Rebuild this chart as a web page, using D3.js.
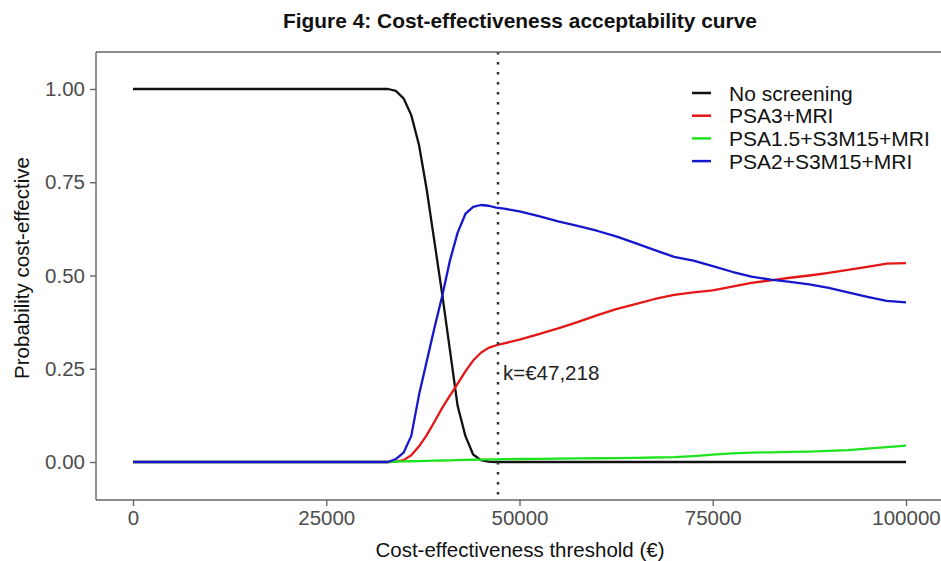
<!DOCTYPE html>
<html>
<head>
<meta charset="utf-8">
<script src="https://cdn.jsdelivr.net/npm/d3@7"></script>
<style>
  html, body { margin: 0; padding: 0; background: #fff; }
  svg { display: block; }
</style>
</head>
<body>
<div id="chart"></div>
<script>
// Valores (limiar em €, probabilidade custo-efetiva)
const thresholds = [0, 30000, 33000, 34000, 35000, 36000, 37000, 38000, 39000, 40000,
  41000, 42000, 43000, 44000, 45000, 46000, 47000, 48000, 50000,
  52500, 55000, 57500, 60000, 62500, 65000, 67500, 70000, 72500, 75000,
  77500, 80000, 82500, 85000, 87500, 90000, 92500, 95000, 97500, 100000];

const noScreening = [1, 1, 1, 0.995, 0.975, 0.93, 0.85, 0.73, 0.59, 0.45,
  0.30, 0.15, 0.07, 0.02, 0.005, 0.001, 0, 0, 0,
  0, 0, 0, 0, 0, 0, 0, 0, 0, 0, 0, 0, 0, 0, 0, 0, 0, 0, 0, 0];

const psa3Mri = [0, 0, 0, 0.001, 0.005, 0.018, 0.042, 0.072, 0.108, 0.145,
  0.178, 0.21, 0.243, 0.272, 0.293, 0.306, 0.313, 0.318, 0.328,
  0.343, 0.358, 0.375, 0.393, 0.41, 0.423, 0.437, 0.448, 0.455, 0.46,
  0.47, 0.48, 0.487, 0.494, 0.5, 0.507, 0.515, 0.523, 0.532, 0.533];

const psa15S3m15Mri = [0, 0, 0, 0.001, 0.0015, 0.002, 0.0025, 0.003, 0.0035, 0.004,
  0.0045, 0.005, 0.0055, 0.006, 0.0065, 0.007, 0.007, 0.0075, 0.008,
  0.0085, 0.009, 0.0095, 0.01, 0.0105, 0.011, 0.012, 0.013, 0.016, 0.02,
  0.023, 0.025, 0.026, 0.027, 0.028, 0.03, 0.032, 0.036, 0.04, 0.044];

const psa2S3m15Mri = [0, 0, 0, 0.008, 0.025, 0.07, 0.18, 0.27, 0.36, 0.445,
  0.54, 0.615, 0.665, 0.684, 0.689, 0.687, 0.682, 0.679, 0.672,
  0.659, 0.645, 0.633, 0.62, 0.605, 0.587, 0.568, 0.55, 0.54, 0.525,
  0.51, 0.497, 0.489, 0.483, 0.476, 0.467, 0.455, 0.443, 0.432, 0.428];

const seriesNames = ["No screening", "PSA3+MRI", "PSA1.5+S3M15+MRI", "PSA2+S3M15+MRI"];
const seriesColors = ["#111111", "#e41616", "#1ee41e", "#1616cc"];
const seriesValues = [noScreening, psa3Mri, psa15S3m15Mri, psa2S3m15Mri];

const xTicks = [0, 25000, 50000, 75000, 100000];
const yTicks = [0, 0.25, 0.5, 0.75, 1];
const kStar = 47218;

const width = 941, height = 561;
const panel = { left: 96, top: 52, right: 945, bottom: 500 };

const svg = d3.select("#chart").append("svg")
  .attr("width", width)
  .attr("height", height)
  .style("font-family", "Liberation Sans, Arial, sans-serif");

const x = d3.scaleLinear().domain([0, 100000]).range([133, 906]);
const y = d3.scaleLinear().domain([0, 1]).range([462, 89]);

// Título (fonte estreita no original: comprime até a largura lida)
svg.append("text")
  .attr("x", 520)
  .attr("y", 28)
  .attr("text-anchor", "middle")
  .attr("font-family", "Liberation Sans, Arial, sans-serif")
  .attr("font-weight", "bold")
  .attr("font-size", "21px")
  .attr("fill", "#111")
  .attr("textLength", 474)
  .attr("lengthAdjust", "spacingAndGlyphs")
  .text("Figure 4: Cost-effectiveness acceptability curve");

// Curvas
const line = d3.line()
  .x((d, i) => x(thresholds[i]))
  .y(d => y(d));

seriesValues.forEach((vals, i) => {
  svg.append("path")
    .datum(vals)
    .attr("fill", "none")
    .attr("stroke", seriesColors[i])
    .attr("stroke-width", 2.3)
    .attr("stroke-linejoin", "round")
    .attr("d", line);
});

// Linha vertical do limiar
svg.append("line")
  .attr("x1", x(kStar)).attr("x2", x(kStar))
  .attr("y1", panel.top).attr("y2", panel.bottom)
  .attr("stroke", "#333")
  .attr("stroke-width", 2.5)
  .attr("stroke-dasharray", "2.5,7.5");

svg.append("text")
  .attr("x", x(kStar) + 5)
  .attr("y", 380)
  .attr("font-size", "20.5px")
  .attr("fill", "#222")
  .text("k=€47,218");

// Bordas do painel
svg.append("line")
  .attr("x1", panel.left).attr("x2", panel.right)
  .attr("y1", panel.top).attr("y2", panel.top)
  .attr("stroke", "#666").attr("stroke-width", 1.4);
svg.append("line")
  .attr("x1", panel.left).attr("x2", panel.left)
  .attr("y1", panel.top).attr("y2", panel.bottom)
  .attr("stroke", "#666").attr("stroke-width", 1.4);
svg.append("line")
  .attr("x1", panel.left).attr("x2", panel.right)
  .attr("y1", panel.bottom).attr("y2", panel.bottom)
  .attr("stroke", "#666").attr("stroke-width", 1.4);

// Eixos
const yAxis = svg.append("g")
  .attr("transform", `translate(${panel.left},0)`)
  .call(d3.axisLeft(y).tickValues(yTicks).tickFormat(d3.format(".2f")).tickSize(6).tickPadding(5));
const xAxis = svg.append("g")
  .attr("transform", `translate(0,${panel.bottom})`)
  .call(d3.axisBottom(x).tickValues(xTicks).tickFormat(d3.format("d")).tickSize(6).tickPadding(4));

[yAxis, xAxis].forEach(g => {
  g.select(".domain").remove();
  g.selectAll(".tick line").attr("stroke", "#666").attr("stroke-width", 1.4);
  g.selectAll(".tick text")
    .attr("fill", "#4d4d4d")
    .attr("font-size", "20.5px")
    .attr("font-family", "Liberation Sans, Arial, sans-serif");
});

// Títulos dos eixos
svg.append("text")
  .attr("x", 520)
  .attr("y", 557)
  .attr("text-anchor", "middle")
  .attr("font-size", "20.5px")
  .attr("fill", "#111")
  .text("Cost-effectiveness threshold (€)");

svg.append("text")
  .attr("transform", "translate(29,268) rotate(-90)")
  .attr("text-anchor", "middle")
  .attr("font-size", "20.5px")
  .attr("fill", "#111")
  .text("Probability cost-effective");

// Legenda
const legend = svg.append("g").attr("transform", "translate(692,93)");
seriesNames.forEach((name, i) => {
  const row = legend.append("g").attr("transform", `translate(0,${i * 22.7})`);
  row.append("line")
    .attr("x1", 0).attr("x2", 19)
    .attr("y1", 0).attr("y2", 0)
    .attr("stroke", seriesColors[i])
    .attr("stroke-width", 2.5);
  row.append("text")
    .attr("x", 37)
    .attr("y", 7.5)
    .attr("font-size", "21px")
    .attr("fill", "#111")
    .text(name);
});
</script>
</body>
</html>
